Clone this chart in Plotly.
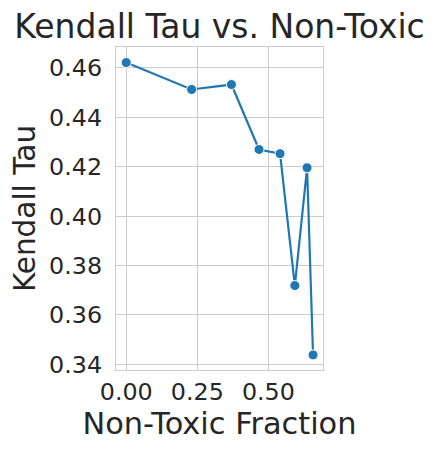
import plotly.graph_objects as go

non_toxic_fraction = [0.0, 0.230, 0.370, 0.467, 0.541, 0.593, 0.636, 0.657]
kendall_tau = [0.4622, 0.4513, 0.4533, 0.4270, 0.4253, 0.3719, 0.4196, 0.3438]
x_ticks = [0.0, 0.25, 0.5]
x_tick_labels = ["0.00", "0.25", "0.50"]
y_ticks = [0.34, 0.36, 0.38, 0.40, 0.42, 0.44, 0.46]
y_tick_labels = ["0.34", "0.36", "0.38", "0.40", "0.42", "0.44", "0.46"]

FONT = "DejaVu Sans"
TXT = "#262626"

fig = go.Figure(
    go.Scatter(
        x=non_toxic_fraction,
        y=kendall_tau,
        mode="lines+markers",
        line=dict(color="#1f77b4", width=2.2),
        marker=dict(color="#1f77b4", size=10, line=dict(color="white", width=1)),
    )
)

# page body has an 8px default margin, so the figure is 431x445
fig.update_layout(
    width=431,
    height=445,
    margin=dict(l=108, r=116, t=39, b=83),
    paper_bgcolor="white",
    plot_bgcolor="white",
    showlegend=False,
    font=dict(family=FONT, color=TXT),
    title=dict(
        text="Kendall Tau vs. Non-Toxic",
        font=dict(family=FONT, size=33, color=TXT),
        x=0.5,
        xanchor="center",
        xref="paper",
        y=0.958,
        yanchor="middle",
    ),
)

fig.update_xaxes(
    range=[-0.036, 0.692],
    tickvals=x_ticks,
    ticktext=x_tick_labels,
    tickfont=dict(family=FONT, size=23.8, color=TXT),
    showgrid=True,
    gridcolor="#cccccc",
    gridwidth=1,
    showline=True,
    linecolor="#cccccc",
    linewidth=1.3,
    mirror=True,
    zeroline=False,
    ticks="",
    ticklabelstandoff=0,
    title=dict(text="Non-Toxic Fraction", font=dict(family=FONT, size=30.4, color=TXT), standoff=8),
    automargin=False,
)

fig.update_yaxes(
    range=[0.3377, 0.4685],
    tickvals=y_ticks,
    ticktext=y_tick_labels,
    tickfont=dict(family=FONT, size=23.8, color=TXT),
    showgrid=True,
    gridcolor="#cccccc",
    gridwidth=1,
    showline=True,
    linecolor="#cccccc",
    linewidth=1.3,
    mirror=True,
    zeroline=False,
    ticks="",
    ticklabelstandoff=8,
    title=dict(text="Kendall Tau", font=dict(family=FONT, size=29.5, color=TXT), standoff=19),
    automargin=False,
)

fig.write_html("out.html")
